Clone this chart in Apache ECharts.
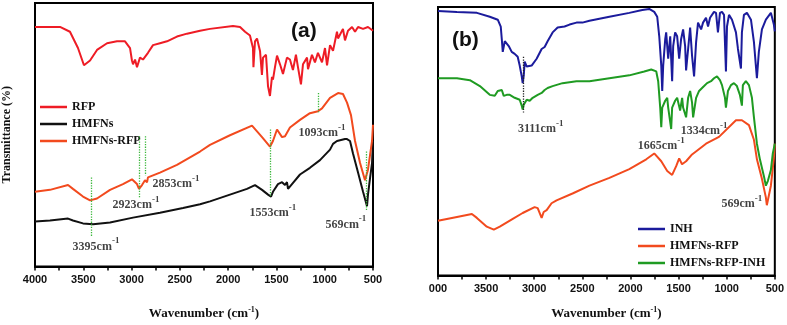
<!DOCTYPE html>
<html>
<head>
<meta charset="utf-8">
<script src="https://cdn.jsdelivr.net/npm/echarts@6/dist/echarts.min.js"></script>
<style>
html,body{margin:0;padding:0;background:#fff}
#main{width:787px;height:325px}
</style>
</head>
<body>
<div id="main"></div>
<script>
// FTIR spectra, [wavenumber, transmittance (arb.)]
var rfp = [[4000,250],[3741,250],[3638,245],[3555,228],[3493,210],[3430,215],[3358,226],[3254,233],[3151,235],[3068,235],
  [3016,228],[2996,215],[2985,211],[2964,216],[2944,208],[2913,218],[2882,216],[2830,223],[2778,231],[2706,233],[2633,235],
  [2530,240],[2426,243],[2291,246],[2188,248],[1950,251],[1877,250],[1825,245],[1774,241],[1743,228],[1738,208],[1722,235],
  [1701,238],[1670,225],[1650,200],[1639,218],[1608,221],[1587,188],[1567,178],[1546,198],[1536,195],[1515,208],[1494,220],
  [1463,211],[1432,201],[1391,218],[1360,216],[1329,205],[1298,221],[1277,208],[1246,190],[1225,211],[1183,218],[1173,206],
  [1132,221],[1101,213],[1070,223],[1028,213],[997,228],[976,210],[945,231],[914,225],[873,245],[862,238],[811,248],
  [790,236],[759,246],[717,250],[686,245],[655,250],[603,248],[552,250],[500,246]];
var hmfns = [[4000,47],[3845,48],[3658,50],[3607,48],[3503,45],[3399,44],[3223,46],[2985,51],[2706,56],[2467,61],[2291,65],
  [2188,68],[1981,75],[1805,81],[1722,85],[1649,80],[1587,75],[1556,73],[1536,78],[1484,86],[1442,88],[1411,85],[1391,88],
  [1380,81],[1339,86],[1256,96],[1153,103],[1049,111],[945,122],[914,128],[873,131],[790,133],[769,133],[738,131],[707,118],
  [655,98],[603,78],[562,63],[552,75],[531,92],[510,108],[500,131]];
var hmfnsRfpA = [[4000,78],[3845,80],[3658,85],[3607,81],[3503,73],[3430,69],[3358,71],[3223,80],[3089,86],[2996,91],[2944,86],
  [2923,81],[2892,85],[2861,90],[2840,88],[2830,93],[2706,98],[2530,106],[2291,120],[2188,127],[1981,137],[1753,147],
  [1701,141],[1649,135],[1567,125],[1536,131],[1494,143],[1474,145],[1442,135],[1411,136],[1360,145],[1256,153],[1153,160],
  [1070,162],[1028,165],[945,176],[862,181],[811,180],[769,171],[728,158],[686,131],[634,108],[583,90],[572,88],
  [552,101],[510,131],[500,148]];
var inh = [[4000,271],[3803,270],[3596,269],[3462,265],[3379,262],[3348,255],[3337,242],[3327,229],[3306,240],[3286,242],
  [3265,235],[3234,229],[3203,227],[3172,224],[3151,215],[3130,204],[3120,197],[3109,205],[3099,219],[3078,214],[3058,212],
  [3027,215],[3016,214],[2975,222],[2923,232],[2892,234],[2861,240],[2809,249],[2757,254],[2685,255],[2633,257],[2561,259],
  [2499,259],[2426,261],[2219,265],[2012,269],[1877,272],[1805,273],[1753,270],[1722,265],[1701,245],[1680,215],[1670,189],
  [1660,215],[1639,242],[1629,249],[1608,222],[1587,245],[1567,199],[1556,235],[1536,249],[1515,245],[1494,222],[1474,242],
  [1453,252],[1432,235],[1422,210],[1401,232],[1380,254],[1360,225],[1339,204],[1318,239],[1298,259],[1266,252],[1246,259],
  [1215,264],[1194,255],[1173,264],[1153,262],[1132,270],[1111,269],[1091,249],[1070,269],[1049,270],[1028,267],[1008,209],
  [997,255],[976,267],[945,262],[904,249],[883,232],[852,212],[842,249],[821,267],[790,269],[748,262],[717,239],[697,215],
  [686,202],[666,229],[634,252],[593,262],[541,269],[521,267],[510,257],[500,250]];
var hmfnsRfpB = [[4000,56],[3803,60],[3648,63],[3596,59],[3493,50],[3420,47],[3358,50],[3223,58],[3120,64],[2996,70],[2964,69],
  [2923,59],[2902,65],[2871,67],[2851,66],[2820,74],[2768,77],[2602,84],[2426,92],[2219,100],[2012,109],[1836,119],[1753,125],
  [1680,117],[1618,107],[1567,103],[1525,112],[1494,120],[1464,114],[1422,117],[1360,124],[1215,135],[1080,142],[904,159],
  [842,159],[769,154],[717,139],[686,119],[634,99],[593,80],[583,72],[541,92],[510,120],[500,135]];
var rfpInh = [[4000,202],[3803,202],[3669,200],[3565,194],[3462,185],[3410,184],[3379,189],[3337,190],[3317,184],[3286,185],
  [3254,185],[3203,182],[3151,180],[3130,174],[3120,170],[3109,175],[3078,180],[3047,179],[3016,182],[2964,185],[2923,187],
  [2892,190],[2861,192],[2809,194],[2706,197],[2561,199],[2426,199],[2219,202],[2012,205],[1857,209],[1784,211],[1732,209],
  [1712,199],[1691,172],[1680,152],[1670,172],[1639,179],[1618,182],[1608,172],[1577,150],[1567,172],[1536,179],[1515,182],
  [1484,169],[1463,182],[1453,172],[1422,162],[1401,182],[1380,189],[1360,177],[1349,162],[1318,182],[1287,189],[1235,194],
  [1204,197],[1163,199],[1132,202],[1101,204],[1070,200],[1049,195],[1018,182],[1008,172],[987,189],[956,195],[925,197],
  [894,194],[863,185],[842,174],[832,195],[801,199],[769,195],[738,182],[717,162],[686,135],[655,119],[614,102],
  [593,92],[572,97],[541,108],[521,125],[500,135]];

// peak markers: [wavenumber, from, to]
var guidesA = [[3420,93,31],[2923,136,71],[2861,136,95],[1567,143,73],[1070,181,161],[569,120,58]];
var guidesB = [[3115,224,167]];
// peak labels: [wavenumber, y, text]
var notesA = [[3368,23,'3395'],[2954,66,'2923'],[2540,88,'2853'],[1028,141,'1093'],[1536,58,'1553'],[780,46,'569']];
var notesB = [[2933,152,'3111'],[1680,135,'1665'],[1235,150,'1334'],[842,75,'569']];
var xTicks = [500, 4000, 500]; // min, max, interval

var serif = 'Liberation Serif';
var sans = 'Liberation Sans';

function guideLines(list, color) {
  return {
    silent: true, symbol: ['none', 'none'],
    lineStyle: {type: 'dotted', color: color, width: 1.3},
    label: {show: false},
    data: list.map(function (g) { return [{coord: [g[0], g[1]]}, {coord: [g[0], g[2]]}]; })
  };
}

function notes(list, xi) {
  return {
    type: 'scatter', name: 'notes' + xi, xAxisIndex: xi, yAxisIndex: xi,
    symbolSize: 0, silent: true, data: list, z: 10,
    label: {
      show: true, position: 'inside',
      formatter: function (p) { return '{m|' + p.data[2] + 'cm}{s|-1}'; },
      rich: {
        m: {fontFamily: serif, fontWeight: 'bold', fontSize: 12, color: '#111', lineHeight: 16, verticalAlign: 'bottom'},
        s: {fontFamily: serif, fontWeight: 'bold', fontSize: 9, color: '#111', lineHeight: 16, verticalAlign: 'top'}
      }
    }
  };
}

function xAxisFor(gi, nameGap, fmt) {
  return {
    type: 'value', gridIndex: gi, inverse: true,
    min: xTicks[0], max: xTicks[1], interval: xTicks[2],
    name: 'Wavenumber (cm{s|-1})', nameLocation: 'middle', nameGap: nameGap,
    nameTextStyle: {fontFamily: serif, fontWeight: 'bold', fontSize: 13, color: '#111',
      rich: {s: {fontFamily: serif, fontWeight: 'bold', fontSize: 8, color: '#111', verticalAlign: 'top', lineHeight: 16}}},
    axisLine: {lineStyle: {color: '#000', width: 2}},
    axisTick: {show: true, length: 4, lineStyle: {color: '#000', width: 1.5}},
    minorTick: {show: true, splitNumber: 2, length: 4, lineStyle: {color: '#000', width: 1.5}},
    axisLabel: {fontFamily: sans, fontWeight: 'bold', fontSize: 11, color: '#111', margin: 8, formatter: fmt},
    splitLine: {show: false}
  };
}

function yAxisFor(gi, name) {
  return {
    type: 'value', gridIndex: gi, min: 0, max: 275,
    name: name, nameLocation: 'middle', nameGap: 22, nameRotate: 90,
    nameTextStyle: {fontFamily: serif, fontWeight: 'bold', fontSize: 12, color: '#111'},
    axisLine: {show: true, lineStyle: {color: '#000', width: 2}},
    axisTick: {show: false}, axisLabel: {show: false}, splitLine: {show: false}
  };
}

function spectrum(name, data, color, xi) {
  return {
    type: 'line', name: name, data: data, xAxisIndex: xi, yAxisIndex: xi,
    symbol: 'none', lineStyle: {color: color, width: 2}, itemStyle: {color: color}
  };
}

var chart = echarts.init(document.getElementById('main'), null, {renderer: 'canvas'});

var sA = spectrum('HMFNs', hmfns, '#111111', 0);
sA.markLine = guideLines(guidesA, '#3cb83c');
var sB = spectrum('INH', inh, '#1b1b9c', 1);
sB.markLine = guideLines(guidesB, '#222');

var legendText = {fontFamily: serif, fontWeight: 'bold', fontSize: 12, color: '#111'};

chart.setOption({
  backgroundColor: '#fff',
  animation: false,
  title: [
    {text: '(a)', left: 286, top: 16, textStyle: {fontFamily: sans, fontWeight: 'bold', fontSize: 21, color: '#111'}},
    {text: '(b)', left: 447, top: 25, textStyle: {fontFamily: sans, fontWeight: 'bold', fontSize: 21, color: '#111'}}
  ],
  grid: [
    {left: 35, right: 414, top: 3, bottom: 47, show: true, borderColor: '#000', borderWidth: 2},
    {left: 438, right: 11, top: 7, bottom: 43, show: true, borderColor: '#000', borderWidth: 2}
  ],
  legend: [
    {data: ['RFP', 'HMFNs', 'HMFNs-RFP'], orient: 'vertical', left: 40, top: 101, padding: 0, icon: 'rect',
      itemWidth: 27, itemHeight: 2.5, itemGap: 5, textStyle: legendText, selectedMode: false},
    {data: ['INH', 'HMFNs-RFP', 'HMFNs-RFP-INH'], orient: 'vertical', left: 638, top: 223, padding: 0, icon: 'rect',
      itemWidth: 27, itemHeight: 2.5, itemGap: 5, textStyle: legendText, selectedMode: false}
  ],
  xAxis: [
    xAxisFor(0, 39, function (v) { return String(v); }),
    xAxisFor(1, 30, function (v) { return v === 4000 ? '000' : String(v); })
  ],
  yAxis: [
    yAxisFor(0, 'Transmittance (%)'),
    yAxisFor(1, '')
  ],
  series: [
    spectrum('RFP', rfp, '#ee1c25', 0),
    sA,
    spectrum('HMFNs-RFP', hmfnsRfpA, '#f24a1e', 0),
    sB,
    spectrum('HMFNs-RFP', hmfnsRfpB, '#f24a1e', 1),
    spectrum('HMFNs-RFP-INH', rfpInh, '#1f9b22', 1),
    notes(notesA, 0),
    notes(notesB, 1)
  ]
});
</script>
</body>
</html>
